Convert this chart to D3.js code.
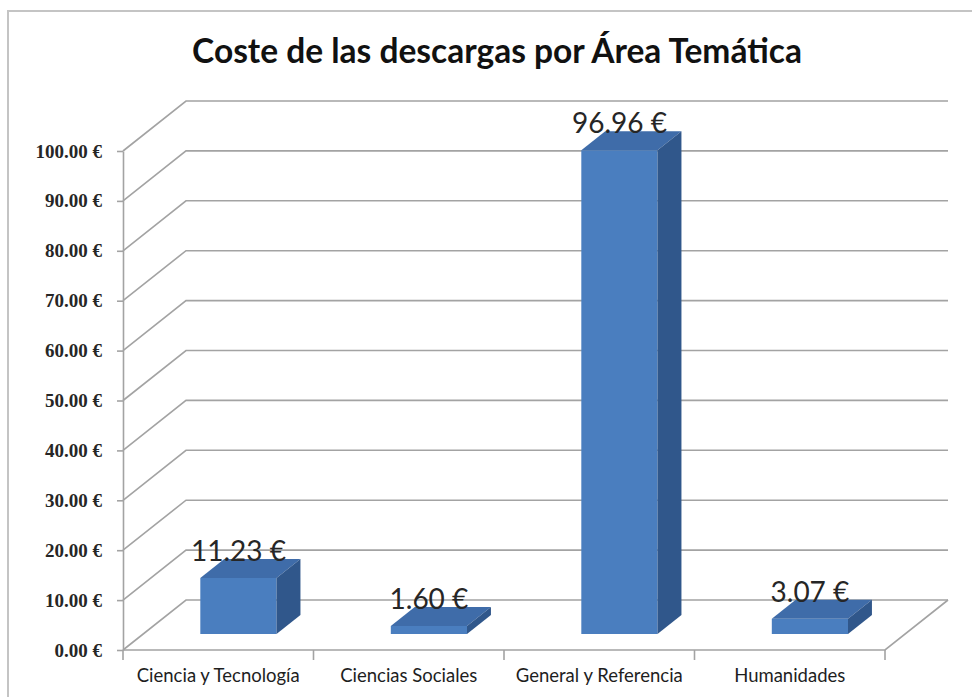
<!DOCTYPE html>
<html>
<head>
<meta charset="utf-8">
<script src="https://cdn.jsdelivr.net/npm/d3@7"></script>
<style>
  body { margin: 0; background: #fff; }
  svg { display: block; }
</style>
</head>
<body>
<div id="chart"></div>
<script>
// values
var categories = ["Ciencia y Tecnología", "Ciencias Sociales", "General y Referencia", "Humanidades"];
var values = [11.23, 1.60, 96.96, 3.07];
var yTicks = [0, 10, 20, 30, 40, 50, 60, 70, 80, 90, 100];
var title = "Coste de las descargas por Área Temática";

var width = 972, height = 697;
var depthX = 63, depthY = 50;      // how far the back wall sits from the front
var barZ = [0.32, 0.70];           // bar front / back depth, as a fraction of the floor

var svg = d3.select("#chart").append("svg")
    .attr("width", width)
    .attr("height", height);

// frame round the chart area, runs off the right and bottom of the shot
svg.append("rect")
    .attr("x", 8).attr("y", 11)
    .attr("width", width).attr("height", height)
    .attr("fill", "none")
    .attr("stroke", "#c4c4c4")
    .attr("stroke-width", 2);

var x = d3.scaleBand().domain(categories).range([123, 885]).padding(0);
var y = d3.scaleLinear().domain([0, 100]).range([650, 151]);

// 3d -> screen
function proj(px, v, z) {
    return [px + z * depthX, y(v) - z * depthY];
}

var grid = svg.append("g").attr("class", "grid");
var gridColour = "#a3a3a3";

// gridlines: left wall diagonal then along the back wall
grid.selectAll("path.gridline")
    .data(yTicks)
    .enter()
    .append("path")
    .attr("class", "gridline")
    .attr("fill", "none")
    .attr("stroke", gridColour)
    .attr("stroke-width", 1.6)
    .attr("d", d => {
        var a = proj(x.range()[0], d, 0), b = proj(x.range()[0], d, 1), c = proj(x.range()[1], d, 1);
        return "M" + a + "L" + b + "L" + c;
    });

// floor: right edge and front edge
var f0 = proj(x.range()[1], 0, 0), f1 = proj(x.range()[1], 0, 1);
grid.append("path")
    .attr("fill", "none")
    .attr("stroke", gridColour)
    .attr("stroke-width", 1.6)
    .attr("d", "M" + [x.range()[0], y(0)] + "L" + f0 + "L" + f1);

// y axis
var yAxis = d3.axisLeft(y)
    .tickValues(yTicks)
    .tickFormat(d => d3.format(".2f")(d) + " €")
    .tickSize(6)
    .tickSizeOuter(0)
    .tickPadding(15);

var ya = svg.append("g")
    .attr("transform", "translate(" + x.range()[0] + ",0)")
    .call(yAxis);
ya.selectAll("path, line").attr("stroke", gridColour).attr("stroke-width", 1.6);
ya.selectAll("text")
    .attr("fill", "#262626")
    .style("font-family", "'Liberation Serif', serif")
    .style("font-weight", "bold")
    .style("font-size", "19px");

// category ticks on the front floor edge
var tickXs = categories.map(c => x(c)).concat([x.range()[1]]);
svg.append("g").selectAll("line")
    .data(tickXs)
    .enter()
    .append("line")
    .attr("x1", d => d).attr("x2", d => d)
    .attr("y1", y(0)).attr("y2", y(0) + 10)
    .attr("stroke", gridColour)
    .attr("stroke-width", 1.6);

svg.append("g").selectAll("text")
    .data(categories)
    .enter()
    .append("text")
    .attr("x", d => x(d) + x.bandwidth() / 2)
    .attr("y", 682)
    .attr("text-anchor", "middle")
    .attr("fill", "#1e1e1e")
    .style("font-family", "Lato, sans-serif")
    .style("font-size", "18.5px")
    .text(d => d);

// bars
var barW = x.bandwidth() * 0.4;
var bars = svg.append("g").selectAll("g.bar")
    .data(categories.map((c, i) => ({cat: c, v: values[i]})))
    .enter()
    .append("g")
    .attr("class", "bar");

function poly(pts) { return "M" + pts.join("L") + "Z"; }

bars.each(function(d) {
    var g = d3.select(this);
    var cx = x(d.cat) + x.bandwidth() / 2;
    var l = cx - barW / 2, r = cx + barW / 2;
    var z0 = barZ[0], z1 = barZ[1];

    // front face
    g.append("path")
        .attr("fill", "#4a7ebf")
        .attr("d", poly([proj(l, 0, z0), proj(r, 0, z0), proj(r, d.v, z0), proj(l, d.v, z0)]));
    // top face
    g.append("path")
        .attr("fill", "#3f6ca9")
        .attr("d", poly([proj(l, d.v, z0), proj(r, d.v, z0), proj(r, d.v, z1), proj(l, d.v, z1)]));
    // side face
    g.append("path")
        .attr("fill", "#30578b")
        .attr("d", poly([proj(r, 0, z0), proj(r, d.v, z0), proj(r, d.v, z1), proj(r, 0, z1)]));

    var lp = proj(cx, d.v, z0), bp = proj(cx, d.v, z1);
    g.append("text")
        .attr("x", lp[0])
        .attr("y", bp[1] + 2)
        .attr("text-anchor", "middle")
        .attr("fill", "#262626")
        .style("font-family", "Lato, sans-serif")
        .style("font-size", "28px")
        .text(d3.format(".2f")(d.v) + " €");
});

// title
svg.append("text")
    .attr("x", 497)
    .attr("y", 63)
    .attr("text-anchor", "middle")
    .attr("fill", "#111")
    .style("font-family", "Lato, sans-serif")
    .style("font-weight", "bold")
    .style("font-size", "33.5px")
    .text(title);
</script>
</body>
</html>
